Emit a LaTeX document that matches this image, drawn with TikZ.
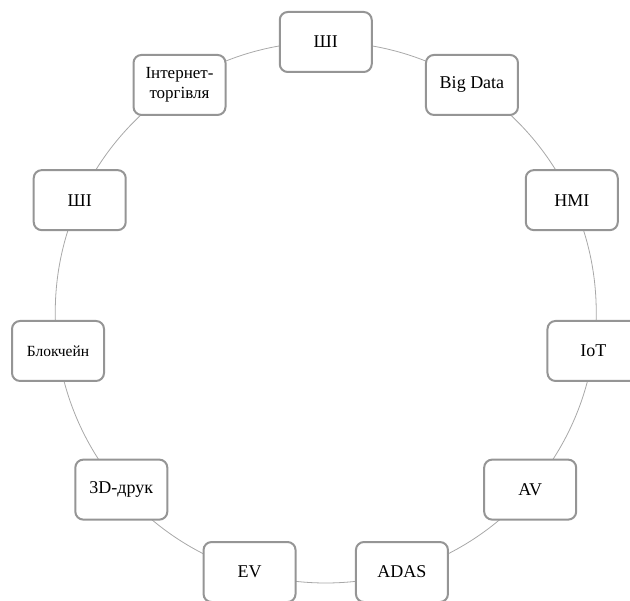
\documentclass[tikz,border=0pt]{standalone}
\usepackage{fontspec}
\setmainfont{Liberation Serif}
\definecolor{boxgray}{HTML}{959595}
\definecolor{ringgray}{HTML}{A8A8A8}
\begin{document}
\begin{tikzpicture}[x=1pt,y=1pt]
\tikzset{
  box/.style={draw=boxgray, line width=2pt, rounded corners=8pt, fill=white,
    minimum width=92pt, minimum height=60pt, inner sep=0pt, align=center,
    font=\fontsize{18}{20}\selectfont},
  ring/.style={draw=ringgray, line width=0.8pt}
}
\useasboundingbox (0,0) rectangle (630,601);
\clip (0,0) rectangle (630,601);
\coordinate (O) at (325.75,288.5);
\def\R{270.5}
\draw[ring] (O) circle (\R);
\path (O) ++(90:\R) node[box] (ai1) {ШІ};
\path (O) ++(57.273:\R) node[box] (bd) {Big Data};
\path (O) ++(24.545:\R) node[box] (hmi) {HMI};
\path (O) ++(-8.182:\R) node[box] (iot) {IoT};
\path (O) ++(-40.909:\R) node[box] (av) {AV};
\path (O) ++(-73.636:\R) node[box] (adas) {ADAS};
\path (O) ++(-106.364:\R) node[box] (ev) {EV};
\path (O) ++(-139.091:\R) node[box] (print) {3D-друк};
\path (O) ++(-171.818:\R) node[box, font=\fontsize{15.5}{18}\selectfont] (chain) {Блокчейн};
\path (O) ++(155.455:\R) node[box] (ai2) {ШІ};
\path (O) ++(122.727:\R) node[box, font=\fontsize{17}{20}\selectfont] (shop) {Інтернет-\\торгівля};
\end{tikzpicture}
\end{document}
